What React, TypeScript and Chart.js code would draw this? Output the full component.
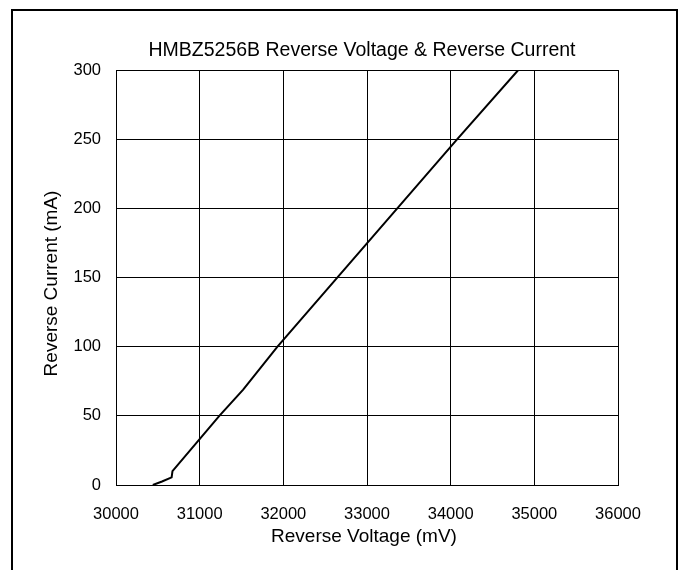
import React, { useEffect, useRef } from "react";
import { Chart, registerables } from "chart.js";

Chart.register(...registerables);

const TITLE = "HMBZ5256B Reverse Voltage & Reverse Current";
const X_LABEL = "Reverse Voltage (mV)";
const Y_LABEL = "Reverse Current (mA)";

// Reverse voltage (mV) and reverse current (mA)
const voltageMV = [30440, 30550, 30665, 30675, 31235, 31520, 31930, 34079, 34808];
const currentMA = [0, 2.5, 5.5, 10, 50, 69, 100, 250, 300];

const X_MIN = 30000;
const X_MAX = 36000;
const X_STEP = 1000;
const Y_MIN = 0;
const Y_MAX = 300;
const Y_STEP = 50;

const FONT = "'Liberation Sans', Arial, Helvetica, sans-serif";

const framePlugin = {
  id: "outerFrame",
  beforeDraw(chart: any) {
    const ctx = chart.ctx;
    ctx.save();
    ctx.fillStyle = "#ffffff";
    ctx.fillRect(0, 0, chart.width, chart.height);
    ctx.strokeStyle = "#000000";
    ctx.lineWidth = 2;
    ctx.strokeRect(12, 10, 665, 600);
    ctx.restore();
  },
  afterDraw(chart: any) {
    const ctx = chart.ctx;
    const area = chart.chartArea;
    ctx.save();
    ctx.fillStyle = "#000000";
    ctx.textAlign = "center";
    ctx.textBaseline = "middle";
    ctx.font = `19.5px ${FONT}`;
    ctx.fillText(TITLE, (area.left + area.right) / 2 - 5, 51);
    ctx.font = `19px ${FONT}`;
    ctx.fillText(X_LABEL, (area.left + area.right) / 2 - 3, 537);
    ctx.translate(52, (area.top + area.bottom) / 2 + 6);
    ctx.rotate(-Math.PI / 2);
    ctx.fillText(Y_LABEL, 0, 0);
    ctx.restore();
  },
};

export default function App() {
  const canvasRef = useRef<HTMLCanvasElement | null>(null);

  useEffect(() => {
    if (!canvasRef.current) return;
    const points = voltageMV.map((v, i) => ({ x: v, y: currentMA[i] }));
    const chart = new Chart(canvasRef.current, {
      type: "line",
      data: {
        datasets: [
          {
            label: Y_LABEL,
            data: points,
            borderColor: "#000000",
            borderWidth: 2,
            pointRadius: 0,
            tension: 0,
            fill: false,
          },
        ],
      },
      options: {
        animation: false,
        responsive: false,
        maintainAspectRatio: false,
        devicePixelRatio: 1,
        layout: { padding: { left: 12, right: 66, top: 70, bottom: 0 } },
        plugins: {
          legend: { display: false },
          tooltip: { enabled: false },
          title: { display: false },
        },
        scales: {
          x: {
            type: "linear",
            min: X_MIN,
            max: X_MAX,
            afterFit: (scale: any) => {
              scale.height = 85;
            },
            ticks: {
              stepSize: X_STEP,
              padding: 20,
              color: "#000000",
              font: { family: FONT, size: 16.5, lineHeight: 1.2 },
              callback: (v: any) => String(v),
            },
            grid: { color: "#000000", lineWidth: 1, drawTicks: false },
            border: { color: "#000000", width: 1 },
          },
          y: {
            type: "linear",
            min: Y_MIN,
            max: Y_MAX,
            afterFit: (scale: any) => {
              scale.width = 104;
            },
            ticks: {
              stepSize: Y_STEP,
              padding: 15,
              color: "#000000",
              font: { family: FONT, size: 16.5, lineHeight: 1.2 },
              callback: (v: any) => String(v),
            },
            grid: { color: "#000000", lineWidth: 1, drawTicks: false },
            border: { color: "#000000", width: 1 },
          },
        },
      },
      plugins: [framePlugin],
    });
    return () => chart.destroy();
  }, []);

  return (
    <div style={{ position: "absolute", left: 0, top: 0, width: 684, height: 570 }}>
      <canvas ref={canvasRef} width={684} height={570} style={{ display: "block", width: 684, height: 570 }} />
    </div>
  );
}
